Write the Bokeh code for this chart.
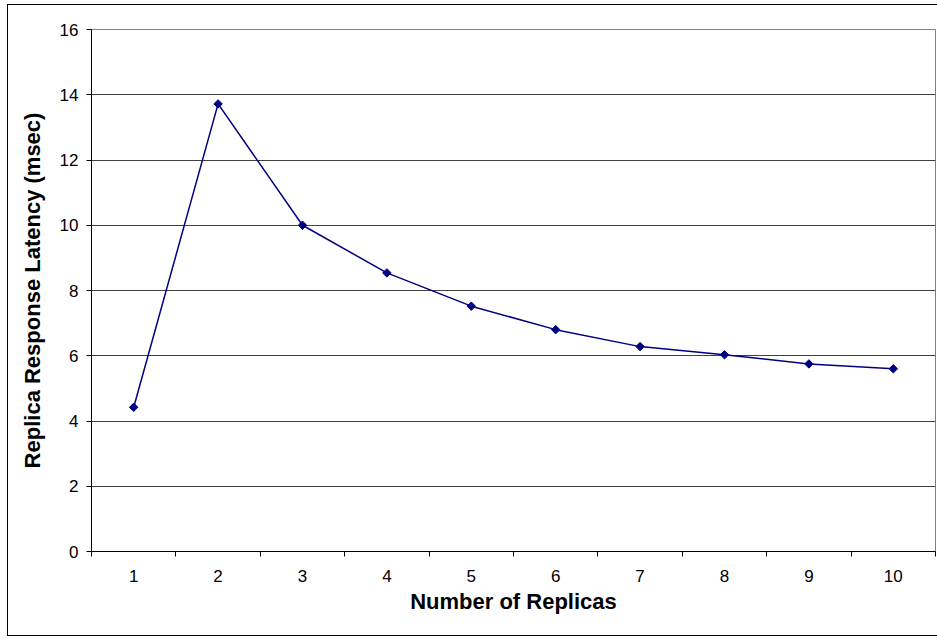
import math
from bokeh.plotting import figure
from bokeh.models import Range1d, FixedTicker, InlineStyleSheet
from bokeh.embed import file_html
from bokeh.resources import INLINE

replicas = [1, 2, 3, 4, 5, 6, 7, 8, 9, 10]
latency = [4.42, 13.72, 10.0, 8.54, 7.52, 6.80, 6.28, 6.03, 5.75, 5.60]
y_ticks = [0, 2, 4, 6, 8, 10, 12, 14, 16]
x_title = "Number of Replicas"
y_title = "Replica Response Latency (msec)"

FONT = "Liberation Sans"

p = figure(width=937, height=639, x_range=Range1d(0.5, 10.5), y_range=Range1d(0, 16),
           output_backend="svg", toolbar_location=None,
           min_border_left=91, min_border_right=2, min_border_top=29, min_border_bottom=88)

p.background_fill_color = "white"
p.border_fill_color = "white"
p.outline_line_color = "#808080"
p.outline_line_width = 1

# outer chart border (drawn with CSS over the canvas)
p.stylesheets = [InlineStyleSheet(css="""
:host { position: relative; overflow: hidden; }
:host::after {
  content: "";
  position: absolute;
  left: 7px; top: 4px;
  width: 1000px; height: 632px;
  border: 1px solid #000;
  pointer-events: none;
  box-sizing: border-box;
}
""")]

p.xgrid.visible = False
p.ygrid.grid_line_color = "#404040"
p.ygrid.grid_line_width = 1

xa = p.xaxis[0]
xa.ticker = FixedTicker(ticks=replicas, minor_ticks=[i + 0.5 for i in range(0, 11)])
xa.major_tick_out = 0
xa.major_tick_in = 0
xa.minor_tick_out = 5
xa.minor_tick_in = 0
xa.minor_tick_line_color = "#000000"
xa.axis_line_color = "#000000"
xa.major_label_standoff = 13
xa.major_label_text_font = FONT
xa.major_label_text_font_size = "17px"
xa.major_label_text_color = "#000000"
xa.axis_label = x_title
xa.axis_label_text_font = FONT
xa.axis_label_text_font_size = "22px"
xa.axis_label_text_font_style = "bold"
xa.axis_label_text_color = "#000000"
xa.axis_label_standoff = 4

ya = p.yaxis[0]
ya.ticker = FixedTicker(ticks=y_ticks, minor_ticks=[])
ya.major_tick_out = 5
ya.major_tick_in = 0
ya.major_tick_line_color = "#000000"
ya.axis_line_color = "#000000"
ya.major_label_standoff = 8
ya.major_label_text_font = FONT
ya.major_label_text_font_size = "17px"
ya.major_label_text_color = "#000000"
ya.axis_label = y_title
ya.axis_label_text_font = FONT
ya.axis_label_text_font_size = "22px"
ya.axis_label_text_font_style = "bold"
ya.axis_label_text_color = "#000000"
ya.axis_label_standoff = 12

p.line(replicas, latency, line_color="#000080", line_width=1.5)
p.scatter(replicas, latency, marker="square", angle=math.pi / 4, size=6,
          fill_color="#000080", line_color="#000080")

open("out.html", "w").write(file_html(p, INLINE))
